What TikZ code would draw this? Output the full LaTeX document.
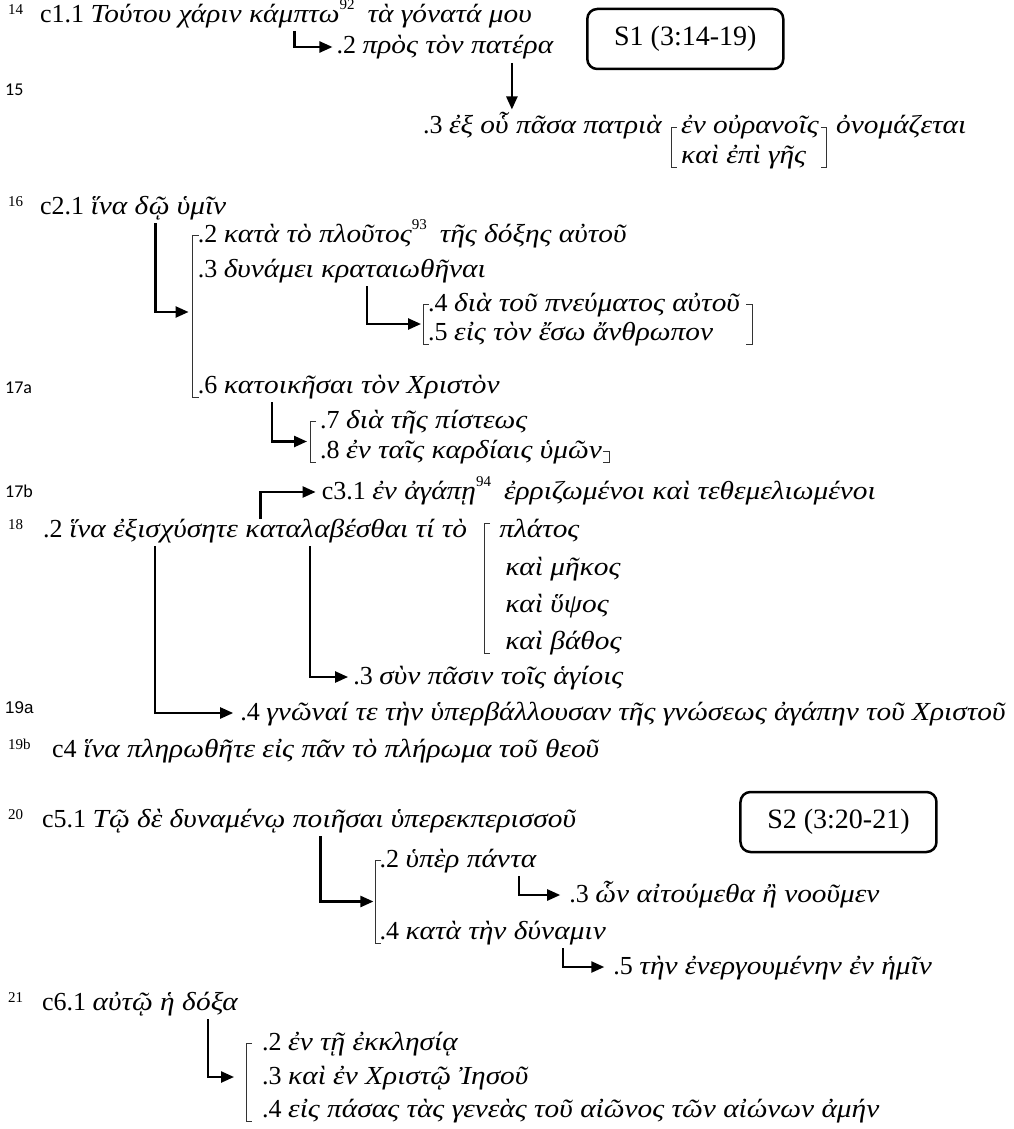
\documentclass[tikz,border=0pt]{standalone}
\usepackage{fontspec}
\setmainfont{Liberation Serif}
\newfontfamily\grk{Liberation Serif}[UprightFont={* Italic}, FakeStretch=1.13]
\newfontfamily\calib{Carlito}
\newfontfamily\asans{Liberation Sans}
\usetikzlibrary{arrows.meta,calc}
\newcommand{\g}[1]{{\grk #1}}
\newcommand{\fn}[1]{\raisebox{0.5em}{\fontsize{15}{15}\selectfont #1}}
\begin{document}
\begin{tikzpicture}[x=1pt,y=-1pt,
  txt/.style={anchor=base west, inner sep=0pt, font=\fontsize{26}{28}\selectfont},
  vs/.style={anchor=base west, inner sep=0pt, font=\fontsize{15}{15}\selectfont},
  vc/.style={anchor=base west, inner sep=0pt, font=\calib\fontsize{18}{18}\selectfont},
  va/.style={anchor=base west, inner sep=0pt, font=\asans\fontsize{17}{17}\selectfont},
  conn/.style={line width=2.4pt, -{Triangle[length=13pt,width=11pt]}},
  brk/.style={line width=0.9pt, draw=black!80},
  sbox/.style={draw, line width=2.5pt, rounded corners=10pt, minimum width=196pt, minimum height=60pt, inner sep=0pt, font=\fontsize{28}{28}\selectfont}
]
\useasboundingbox (0,0) rectangle (1013,1129);
% row baselines
\coordinate (R1) at (0,23);   \coordinate (R2) at (0,54);
\coordinate (R3) at (0,134);  \coordinate (R3b) at (0,163);
\coordinate (RC2) at (0,214); \coordinate (R22) at (0,242);
\coordinate (R23) at (0,277); \coordinate (R24) at (0,311);
\coordinate (R25) at (0,340); \coordinate (R26) at (0,393);
\coordinate (R27) at (0,428); \coordinate (R28) at (0,458);
\coordinate (RC3) at (0,499); \coordinate (R18) at (0,537);
\coordinate (RW2) at (0,575); \coordinate (RW3) at (0,612);
\coordinate (RW4) at (0,649); \coordinate (R33) at (0,684);
\coordinate (R34) at (0,720); \coordinate (RC4) at (0,757);
\coordinate (RC5) at (0,827); \coordinate (R52) at (0,867);
\coordinate (R53) at (0,902); \coordinate (R54) at (0,939);
\coordinate (R55) at (0,974); \coordinate (RC6) at (0,1010);
\coordinate (R62) at (0,1050); \coordinate (R63) at (0,1084);
\coordinate (R64) at (0,1117);
\coordinate (RS1) at (0,39);  \coordinate (RS2) at (0,822);

% ================= S1 =================
\node[vs] (v14) at (8,15) {14};
\node[txt] (c11a) at (40,23) {c1.1 \g{Τούτου χάριν κάμ}};
\node[txt] (c11b) at (c11a.base east) {\g{πτω}\fn{92}\ \ \g{τὰ γόνατά μου}};
\coordinate (a1s) at ([shift={(1pt,-8pt)}]c11b.base west);
\node[txt] (n12a) at ($(a1s |- R2)+(42,0)$) {.2 \g{πρὸς τὸν πατ}};
\node[txt] (n12b) at (n12a.base east) {\g{έρα}};
\draw[conn] (a1s) |- ([shift={(-4pt,7pt)}]n12a.base west);

\node[vc] (v15) at (5,96) {15};
\coordinate (a2s) at ([shift={(0pt,-9pt)}]n12b.base west);
\node[txt, anchor=base east] (n13a) at ($(a2s |- R3)+(-3,0)$) {.3 \g{ἐξ οὗ}};
\node[txt] (n13b) at ($(n13a.base east)+(7,0)$) {\g{πᾶσα πατριὰ}};
\coordinate (a2e) at (a2s |- n13a.north);
\draw[conn] (a2s) -- ([yshift=3pt]a2e);
\coordinate (b1t) at ($(n13b.base east)+(9,-7)$);
\coordinate (b1b) at ($(b1t |- R3b)+(0,4)$);
\draw[brk] ([xshift=6pt]b1t) -- (b1t) -- (b1b) -- ([xshift=6pt]b1b);
\node[txt] (n13c) at ($(b1t |- R3)+(10,0)$) {\g{ἐν οὐρανοῖς}};
\node[txt] (n13d) at ($(b1t |- R3b)+(10,0)$) {\g{καὶ ἐπὶ γῆς}};
\coordinate (b1rt) at ($(n13c.base east)+(8,-7)$);
\coordinate (b1rb) at ($(b1rt |- R3b)+(0,4)$);
\draw[brk] ([xshift=-6pt]b1rt) -- (b1rt) -- (b1rb) -- ([xshift=-6pt]b1rb);
\node[txt] (n13e) at ($(b1rt |- R3)+(9,0)$) {\g{ὀνομάζεται}};
\node[sbox, anchor=west] (s1) at ($(b1t |- RS1)+(-85,0)$) {S1 (3:14-19)};

% ================= c2 =================
\node[vs] (v16) at (8,206) {16};
\node[txt] (c21a) at (40,214) {c2.1 \g{ἵνα δ}};
\node[txt] (c21b) at (c21a.base east) {\g{ῷ ὑμῖν}};
\coordinate (a3s) at ([shift={(7pt,-9pt)}]c21b.base west);
\coordinate (b2t) at ($(a3s |- R22)+(37,-7)$);
\coordinate (b2b) at ($(b2t |- R26)+(0,4)$);
\coordinate (b2m) at ($(b2t)!0.5!(b2b)$);
\draw[brk] ([xshift=6pt]b2t) -- (b2t) -- (b2b) -- ([xshift=6pt]b2b);
\draw[conn] (a3s) |- ($(b2m)+(-4,-4)$);
\node[txt] (n22) at ($(b2t |- R22)+(5,0)$) {.2 \g{κατὰ τὸ πλοῦτος}\fn{93}\ \ \g{τῆς δόξης αὐτοῦ}};
\node[txt] (n23a) at ($(b2t |- R23)+(5,0)$) {.3 \g{δυνάμει κρα}};
\node[txt] (n23b) at (n23a.base east) {\g{ταιωθῆναι}};
\coordinate (a4s) at ([shift={(2pt,-9pt)}]n23b.base west);
\coordinate (b3t) at ($(a4s |- R24)+(56,-7)$);
\coordinate (b3b) at ($(b3t |- R25)+(0,4)$);
\coordinate (b3m) at ($(b3t)!0.5!(b3b)$);
\draw[brk] ([xshift=6pt]b3t) -- (b3t) -- (b3b) -- ([xshift=6pt]b3b);
\draw[conn] (a4s) |- ($(b3m)+(-2,0)$);
\node[txt] (n24) at ($(b3t |- R24)+(5,0)$) {.4 \g{διὰ τοῦ πνεύματος αὐτοῦ}};
\node[txt] (n25) at ($(b3t |- R25)+(5,0)$) {.5 \g{εἰς τὸν ἔσω ἄνθρωπον}};
\coordinate (b3rt) at ($(n24.base east)+(12,-7)$);
\coordinate (b3rb) at ($(b3rt |- R25)+(0,4)$);
\draw[brk] ([xshift=-6pt]b3rt) -- (b3rt) -- (b3rb) -- ([xshift=-6pt]b3rb);
\node[vc] (v17a) at (5,393) {17a};
\node[txt] (n26a) at ($(b2t |- R26)+(5,0)$) {.6 \g{κατ}};
\node[txt] (n26b) at (n26a.base east) {\g{οικῆσαι τὸν Χριστὸν}};
\coordinate (a5s) at ([shift={(8pt,-9pt)}]n26b.base west);
\coordinate (b4t) at ($(a5s |- R27)+(38,-7)$);
\coordinate (b4b) at ($(b4t |- R28)+(0,4)$);
\coordinate (b4m) at ($(b4t)!0.5!(b4b)$);
\draw[brk] ([xshift=6pt]b4t) -- (b4t) -- (b4b) -- ([xshift=6pt]b4b);
\draw[conn] (a5s) |- ($(b4m)+(-3,0)$);
\node[txt] (n27) at ($(b4t |- R27)+(10,0)$) {.7 \g{διὰ τῆς πίστεως}};
\node[txt] (n28) at ($(b4t |- R28)+(10,0)$) {.8 \g{ἐν ταῖς καρδίαις ὑμῶν}};
\coordinate (b4rt) at ($(n28.base east)+(7,-7)$);
\coordinate (b4rb) at ($(b4rt |- R28)+(0,4)$);
\draw[brk] ([xshift=-6pt]b4rt) -- (b4rt) -- (b4rb) -- ([xshift=-6pt]b4rb);

% ================= c3 / c4 =================
\node[vc] (v17b) at (5,497) {17b};
\node[vs] (v18) at (8,529) {18};
\node[txt] (n32a) at (43,537) {.2 \g{ἵνα ἐξισ}};
\node[txt] (n32b) at (n32a.base east) {\g{χύσητε κ}};
\node[txt] (n32c) at (n32b.base east) {\g{αταλ}};
\node[txt] (n32d) at (n32c.base east) {\g{αβέσθαι τί τὸ}};
\coordinate (a6s) at ($(n32c.base west)+(1,-18)$);
\node[txt] (c31) at ($(a6s |- RC3)+(61,0)$) {c3.1 \g{ἐν ἀγάπῃ}\fn{94}\ \ \g{ἐρριζωμένοι καὶ τεθεμελιωμένοι}};
\draw[conn] (a6s) |- ([shift={(-6pt,7pt)}]c31.base west);
\coordinate (b5t) at ($(n32d.base east)+(17,-14)$);
\coordinate (b5b) at ($(b5t |- RW4)+(0,4)$);
\draw[brk] ([xshift=6pt]b5t) -- (b5t) -- (b5b) -- ([xshift=6pt]b5b);
\node[txt] (w1) at ($(b5t |- R18)+(15,0)$) {\g{πλάτος}};
\node[txt] (w2) at ($(b5t |- RW2)+(21,0)$) {\g{καὶ μῆκος}};
\node[txt] (w3) at ($(b5t |- RW3)+(21,0)$) {\g{καὶ ὕψος}};
\node[txt] (w4) at ($(b5t |- RW4)+(21,0)$) {\g{καὶ βάθος}};
\coordinate (a7s) at ([shift={(-4pt,-9pt)}]n32d.base west);
\node[txt] (n33) at ($(a7s |- R33)+(43,0)$) {.3 \g{σὺν πᾶσιν τοῖς ἁγίοις}};
\draw[conn] (a7s) |- ([shift={(-5pt,7pt)}]n33.base west);
\coordinate (a8s) at ([shift={(-5pt,-9pt)}]n32b.base west);
\node[va] (v19a) at (5,713) {19a};
\node[txt] (n34) at ($(a8s |- R34)+(85,0)$) {.4 \g{γνῶναί τε τὴν ὑπερβάλλουσαν τῆς γνώσεως ἀγάπην τοῦ Χριστοῦ}};
\draw[conn] (a8s) |- ([shift={(-7pt,7pt)}]n34.base west);
\node[vs] (v19b) at (8,749) {19b};
\node[txt] (c4) at (52,757) {c4 \g{ἵνα πληρωθῆτε εἰς πᾶν τὸ πλήρωμα τοῦ θεοῦ}};

% ================= S2 =================
\node[vs] (v20) at (8,819) {20};
\node[txt] (c51a) at (42,827) {c5.1 \g{Τῷ δὲ δυναμένῳ πο}};
\node[txt] (c51b) at (c51a.base east) {\g{ιῆσαι ὑπερεκπερισσοῦ}};
\coordinate (a9s) at ([shift={(-2pt,-9pt)}]c51b.base west);
\coordinate (b6t) at ($(a9s |- R52)+(55,-7)$);
\coordinate (b6b) at ($(b6t |- R54)+(0,4)$);
\coordinate (b6m) at ($(b6t)!0.5!(b6b)$);
\draw[brk] ([xshift=6pt]b6t) -- (b6t) -- (b6b) -- ([xshift=6pt]b6b);
\draw[conn] (a9s) |- ($(b6m)+(-2,0)$);
\node[txt] (n52a) at ($(b6t |- R52)+(4,0)$) {.2 \g{ὑπὲρ πάν}};
\node[txt] (n52b) at (n52a.base east) {\g{τα}};
\coordinate (a10s) at ([shift={(9pt,-9pt)}]n52b.base west);
\node[txt] (n53) at ($(a10s |- R53)+(50,0)$) {.3 \g{ὧν αἰτούμεθα ἢ νοοῦμεν}};
\draw[conn] (a10s) |- ([shift={(-9pt,7pt)}]n53.base west);
\node[txt] (n54a) at ($(b6t |- R54)+(4,0)$) {.4 \g{κατὰ τὴν δύν}};
\node[txt] (n54b) at (n54a.base east) {\g{αμιν}};
\coordinate (a11s) at ([shift={(9pt,-9pt)}]n54b.base west);
\node[txt] (n55) at ($(a11s |- R55)+(50,0)$) {.5 \g{τὴν ἐνεργουμένην ἐν ἡμῖν}};
\draw[conn] (a11s) |- ([shift={(-9pt,7pt)}]n55.base west);
\node[sbox, anchor=west] (s2) at ($(n53.base west |- RS2)+(170,0)$) {S2 (3:20-21)};

% ================= c6 =================
\node[vs] (v21) at (8,1002) {21};
\node[txt] (c61a) at (42,1010) {c6.1 \g{αὐτῷ ἡ δ}};
\node[txt] (c61b) at (c61a.base east) {\g{όξα}};
\coordinate (a12s) at ([shift={(12pt,-9pt)}]c61b.base west);
\coordinate (b7t) at ($(a12s |- R62)+(38,-7)$);
\coordinate (b7b) at ($(b7t |- R64)+(0,4)$);
\draw[brk] ([xshift=6pt]b7t) -- (b7t) -- (b7b) -- ([xshift=6pt]b7b);
\draw[conn] (a12s) |- ($(b7t |- R63)+(-12,-7)$);
\node[txt] (n62) at ($(b7t |- R62)+(16,0)$) {.2 \g{ἐν τῇ ἐκκλησίᾳ}};
\node[txt] (n63) at ($(b7t |- R63)+(16,0)$) {.3 \g{καὶ ἐν Χριστῷ Ἰησοῦ}};
\node[txt] (n64) at ($(b7t |- R64)+(16,0)$) {.4 \g{εἰς πάσας τὰς γενεὰς τοῦ αἰῶνος τῶν αἰώνων ἀμήν}};
\end{tikzpicture}
\end{document}
